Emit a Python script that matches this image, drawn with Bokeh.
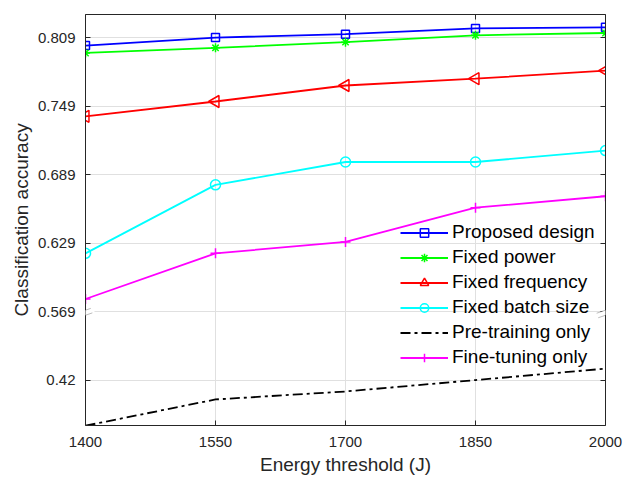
import math

from bokeh.plotting import figure
from bokeh.models import (FixedTicker, CustomJSTickFormatter, CustomLabelingPolicy,
                          LinearAxis, Legend, LegendItem, PolyAnnotation, Range1d)
from bokeh.embed import file_html
from bokeh.resources import INLINE

# ---- data -----------------------------------------------------------------
energy = [1400, 1550, 1700, 1850, 2000]

proposed_design = [0.802, 0.809, 0.812, 0.817, 0.818]
fixed_power = [0.7955, 0.800, 0.805, 0.811, 0.813]
fixed_frequency = [0.740, 0.753, 0.767, 0.773, 0.780]
fixed_batch_size = [0.620, 0.680, 0.700, 0.700, 0.710]
pre_training_only = [0.380, 0.403, 0.410, 0.420, 0.430]
fine_tuning_only = [0.580, 0.620, 0.630, 0.660, 0.670]

x_ticks = [1400, 1550, 1700, 1850, 2000]
upper_ticks = [0.569, 0.629, 0.689, 0.749, 0.809]
upper_labels = ["0.569", "0.629", "0.689", "0.749", "0.809"]
lower_ticks = [0.42]
lower_labels = ["0.42"]

# ---- broken y axis ----------------------------------------------------------
y_break = 0.569
tick_step = 0.06
# the lower segment is drawn one tick step below the break
lower_shift = (y_break - tick_step) - lower_ticks[0]
lower_positions = [round(t + lower_shift, 6) for t in lower_ticks]

y_positions = lower_positions + upper_ticks
y_labels = lower_labels + upper_labels

Y0, Y1 = 0.4692, 0.8292
FRAME_W, FRAME_H = 520, 411
XPX = (x_ticks[-1] - x_ticks[0]) / FRAME_W   # data units per pixel
YPX = (Y1 - Y0) / FRAME_H

FONT = "Liberation Sans"
INK = "#262626"

p = figure(width=630, height=478, output_backend="svg", toolbar_location=None,
           x_range=Range1d(x_ticks[0], x_ticks[-1]), y_range=Range1d(Y0, Y1),
           min_border_left=85, min_border_right=25, min_border_top=14,
           min_border_bottom=53, x_axis_label="Energy threshold (J)",
           y_axis_label="Classification accuracy")
p.outline_line_color = None
p.background_fill_color = "white"
p.border_fill_color = "white"

xticker = FixedTicker(ticks=x_ticks)
yticker = FixedTicker(ticks=y_positions)
yformatter = CustomJSTickFormatter(
    args=dict(pos=y_positions, lab=y_labels),
    code="const i = pos.findIndex(v => Math.abs(v - tick) < 1e-6); return i >= 0 ? lab[i] : '';")

p.xaxis.ticker = xticker
p.yaxis.ticker = yticker
p.yaxis.formatter = yformatter
p.xgrid.ticker = xticker
p.ygrid.ticker = yticker
for g in (p.xgrid, p.ygrid):
    g.grid_line_color = "#e0e0e0"
    g.grid_line_width = 1

# mirror axes on the top and right carry tick marks only
no_labels = CustomLabelingPolicy(
    code="const all = Array.from(indices); for (const i of all) indices.unset(i); return indices;")
blank = CustomJSTickFormatter(code="return '';")


def style_axis(ax, labelled=True):
    ax.axis_line_color = INK
    ax.axis_line_width = 1
    ax.major_tick_line_color = INK
    ax.major_tick_in = 5
    ax.major_tick_out = 0
    ax.minor_tick_line_color = None
    ax.major_label_text_font = FONT
    ax.major_label_text_color = INK
    if labelled:
        ax.major_label_text_font_size = "15px"
        ax.axis_label_text_font = FONT
        ax.axis_label_text_font_size = "19px"
        ax.axis_label_text_font_style = "normal"
        ax.axis_label_text_color = INK
    else:
        ax.formatter = blank
        ax.major_label_policy = no_labels
        ax.major_label_text_font_size = "1px"
        ax.major_label_standoff = 0


style_axis(p.xaxis[0])
style_axis(p.yaxis[0])
p.xaxis.major_label_standoff = 11
p.xaxis.axis_label_standoff = 4
p.yaxis.major_label_standoff = 10
p.yaxis.axis_label_standoff = 3

top_axis = LinearAxis(ticker=xticker)
right_axis = LinearAxis(ticker=yticker)
style_axis(top_axis, labelled=False)
style_axis(right_axis, labelled=False)
p.add_layout(top_axis, "above")
p.add_layout(right_axis, "right")

# ---- series -------------------------------------------------------------------
LW = 1.8
items = []


def series(label, ys, color, marker=None, size=9, angle=0.0, dash="solid"):
    r_line = p.line(energy, ys, line_color=color, line_width=LW, line_dash=dash)
    rends = [r_line]
    if marker is not None:
        r_mark = p.scatter(energy, ys, marker=marker, size=size, angle=angle,
                           line_color=color, line_width=LW - 0.3,
                           fill_color=None)
        rends.append(r_mark)
    items.append(LegendItem(label=label, renderers=rends))


series("Proposed design", proposed_design, "#0000ff", "square", 8)
series("Fixed power", fixed_power, "#00ff00", "asterisk", 9)
series("Fixed frequency", fixed_frequency, "#ff0000", "triangle", 12, angle=math.pi / 2)
series("Fixed batch size", fixed_batch_size, "#00ffff", "circle", 10)
series("Pre-training only", [v + lower_shift for v in pre_training_only], "#000000",
       dash="10 4 3 4")
series("Fine-tuning only", fine_tuning_only, "#ff00ff", "cross", 10)

legend = Legend(items=items, location=(315, 57), padding=0, margin=0,
                spacing=3, glyph_width=48, glyph_height=21, label_height=21,
                label_standoff=4, border_line_color=None,
                background_fill_alpha=0, label_text_font=FONT,
                label_text_font_size="19px", label_text_color="#000000")
p.add_layout(legend)

# ---- axis break marks on both sides ------------------------------------------
slope = math.tan(math.radians(19))
half = 7.5
gap = 2.4
cx, cy = -1.0, -1.5          # pixel offset of the mark centre from the break point
up_c = (cx - gap * math.sin(math.radians(19)), cy + gap * math.cos(math.radians(19)))
lo_c = (cx + gap * math.sin(math.radians(19)), cy - gap * math.cos(math.radians(19)))


def on_stroke(c, px):
    return (px, c[1] + (px - c[0]) * slope)


def break_marks(x_axis_pos, covers_label):
    def to_data(pt):
        return x_axis_pos + pt[0] * XPX, y_break + pt[1] * YPX

    # white patch hiding the axis between the two strokes
    left = -13.5 if covers_label else -9.0
    pts = []
    if covers_label:
        pts += [(left, 5.5), (-8.5, 5.5)]
    pts += [on_stroke(up_c, -8.0), on_stroke(up_c, 9.0),
            on_stroke(lo_c, 9.0), on_stroke(lo_c, left)]
    if not covers_label:
        pts.append(on_stroke(up_c, left))
    corners = [to_data(pt) for pt in pts]
    p.add_layout(PolyAnnotation(xs=[c[0] for c in corners], ys=[c[1] for c in corners],
                                fill_color="white", fill_alpha=1, line_color=None))
    dx = half * math.cos(math.radians(19))
    for c in (up_c, lo_c):
        a = to_data(on_stroke(c, c[0] - dx))
        b = to_data(on_stroke(c, c[0] + dx))
        p.add_layout(PolyAnnotation(xs=[a[0], b[0]], ys=[a[1], b[1]],
                                    fill_color=None, line_color=INK, line_width=1))


break_marks(x_ticks[0], True)
break_marks(x_ticks[-1], False)

open("out.html", "w").write(file_html(p, INLINE))
